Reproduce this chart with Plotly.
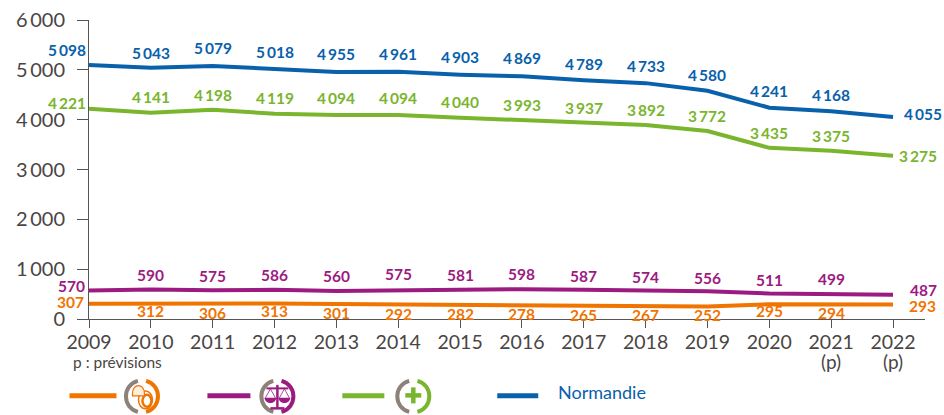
import plotly.graph_objects as go

YEARS = list(range(2009, 2023))
NORMANDIE = [5098, 5043, 5079, 5018, 4955, 4961, 4903, 4869, 4789, 4733, 4580, 4241, 4168, 4055]
GREEN_VALUES = [4221, 4141, 4198, 4119, 4094, 4094, 4040, 3993, 3937, 3892, 3772, 3435, 3375, 3275]
PURPLE_VALUES = [570, 590, 575, 586, 560, 575, 581, 598, 587, 574, 556, 511, 499, 487]
ORANGE_VALUES = [307, 312, 306, 313, 301, 292, 282, 278, 265, 267, 252, 295, 294, 293]
X_TICK_LABELS = [str(y) for y in YEARS]
FORECAST_YEARS = [2021, 2022]
Y_TICK_VALUES = [0, 1000, 2000, 3000, 4000, 5000, 6000]

BLUE, GREEN, PURPLE, ORANGE = "#0a61ab", "#7ab52e", "#9c1b81", "#f07400"
GREY = "#8c8279"
TEXT = "#4a4543"
FONT = "Lato"
SP = "\u2009"

# label offsets from the point, in pixels (positive = up / right)
BLUE_DY = [15, 15, 18, 17, 18, 18, 18, 18, 16, 17, 16, 17, 16, 3]
GREEN_DY = [6, 16, 15, 16, 17, 17, 16, 15, 15, 15, 15, 15, 15, 0]
PURPLE_DY = [5, 15, 14, 15, 15, 16, 15, 15, 14, 13, 13, 14, 15, 5]
ORANGE_DY = [2, -8, -9, -8, -9, -10, -9, -9, -9, -9, -9, -7, -9, -2]
FIRST_DX = {"b": -22, "g": -22, "p": -18, "o": -19}
LAST_DX = {"b": 30, "g": 25, "p": 30, "o": 29}

L, R, T, B = 88.5, 925.0, 19.5, 319.0
XMAX = 2009 + (R - L) / ((893 - 88.5) / 13)


def px(x):
    return (x - L) / (R - L)


def py(y):
    return (B - y) / (B - T)


def fmt(v):
    return f"{v:,}".replace(",", SP)


def path_from(cmds):
    """cmds: list of (letter, x, y, ...) in picture pixels."""
    out = []
    for c in cmds:
        pts = c[1:]
        coords = " ".join(f"{px(pts[i])} {py(pts[i + 1])}" for i in range(0, len(pts), 2))
        out.append(f"{c[0]} {coords}".strip())
    return " ".join(out)


def pshape(cmds, line=None, width=0, fill=None):
    d = dict(type="path", xref="paper", yref="paper", path=path_from(cmds))
    d["line"] = dict(color=line, width=width) if line else dict(width=0)
    if fill:
        d["fillcolor"] = fill
    return d


def seg(x0, y0, x1, y1, col, width):
    return dict(type="line", xref="paper", yref="paper", x0=px(x0), x1=px(x1),
                y0=py(y0), y1=py(y1), line=dict(color=col, width=width))


def ellipse(x0, y0, x1, y1, col, width):
    return dict(type="circle", xref="paper", yref="paper", x0=px(x0), x1=px(x1),
                y0=py(y0), y1=py(y1), line=dict(color=col, width=width))


fig = go.Figure()
annotations = []
for vals, col, dy, key in [
    (NORMANDIE, BLUE, BLUE_DY, "b"),
    (GREEN_VALUES, GREEN, GREEN_DY, "g"),
    (PURPLE_VALUES, PURPLE, PURPLE_DY, "p"),
    (ORANGE_VALUES, ORANGE, ORANGE_DY, "o"),
]:
    fig.add_trace(go.Scatter(x=YEARS, y=vals, mode="lines", line=dict(color=col, width=4),
                             cliponaxis=False, showlegend=False, hoverinfo="skip"))
    for i, (x, v) in enumerate(zip(YEARS, vals)):
        dx = FIRST_DX[key] if i == 0 else LAST_DX[key] if i == len(vals) - 1 else 0
        annotations.append(dict(x=x, y=v, xref="x", yref="y", text=fmt(v), showarrow=False,
                                xanchor="center", yanchor="middle", xshift=dx, yshift=dy[i],
                                font=dict(family=FONT, size=15.5, color=col, weight=700)))

for year in FORECAST_YEARS:
    annotations.append(dict(x=year, y=py(362), xref="x", yref="paper", text="(p)", showarrow=False,
                            xanchor="center", yanchor="middle",
                            font=dict(family=FONT, size=19, color=TEXT)))

annotations.append(dict(x=px(70), y=py(362), xref="paper", yref="paper", text="p : prévisions",
                        showarrow=False, xanchor="left", yanchor="middle",
                        font=dict(family=FONT, size=15.5, color=TEXT)))
annotations.append(dict(x=px(556), y=py(392), xref="paper", yref="paper", text="Normandie",
                        showarrow=False, xanchor="left", yanchor="middle",
                        font=dict(family=FONT, size=18, color=BLUE)))

shapes = []
LEGEND_Y = 396
for x0, x1, col in [(69, 116, ORANGE), (207, 250, PURPLE), (342, 384, GREEN), (497, 538, BLUE)]:
    shapes.append(seg(x0, LEGEND_Y, x1, LEGEND_Y, col, 5))


def arc(cx, cy, s, col):
    return pshape([("M", cx + s * 4.1, cy - 15.5),
                   ("C", cx + s * 20, cy - 11.2, cx + s * 20, cy + 11.2, cx + s * 4.1, cy + 15.5)],
                  line=col, width=4)


for cx, col in [(141.5, ORANGE), (277, PURPLE), (413, GREEN)]:
    shapes += [arc(cx, 396.5, -1, GREY), arc(cx, 396.5, 1, col)]

# orange icon: helmet over tyre
shapes.append(ellipse(138, 391, 152, 409, ORANGE, 1.5))
shapes.append(ellipse(142, 395, 151, 407, ORANGE, 2.5))
shapes.append(pshape([("M", 132, 394), ("C", 132, 383, 144, 383, 144, 394), ("L", 144, 396), ("L", 132, 396), ("Z",)],
                     line=ORANGE, width=1.2, fill="#fdeedd"))

# purple icon: scales
shapes.append(seg(266, 388.5, 288, 388.5, PURPLE, 2))
shapes.append(seg(277, 385, 277, 408, PURPLE, 2.5))
shapes.append(seg(270, 408.5, 284, 408.5, PURPLE, 2.5))
for c in (270, 284):
    shapes.append(seg(c, 389, c - 5, 398, PURPLE, 0.8))
    shapes.append(seg(c, 389, c + 5, 398, PURPLE, 0.8))
    shapes.append(pshape([("M", c - 6, 398), ("C", c - 5, 405, c + 5, 405, c + 6, 398), ("Z",)], fill=PURPLE))

# green icon: plus sign
shapes.append(seg(405, 395.5, 421, 395.5, GREEN, 4.5))
shapes.append(seg(413, 387.5, 413, 403.5, GREEN, 4.5))

fig.update_layout(
    width=944, height=415, autosize=False,
    margin=dict(l=L, r=944 - R, t=T, b=415 - B),
    paper_bgcolor="white", plot_bgcolor="white",
    showlegend=False, annotations=annotations, shapes=shapes,
    font=dict(family=FONT, color=TEXT),
    xaxis=dict(range=[2009, XMAX], tickmode="array", tickvals=YEARS, ticktext=X_TICK_LABELS,
               automargin=False,
               ticks="outside", ticklen=8, tickcolor="#555", tickwidth=1, showline=True,
               linecolor="#555", linewidth=1, showgrid=False, zeroline=False,
               tickfont=dict(family=FONT, size=19.5, color=TEXT), ticklabelstandoff=-2),
    yaxis=dict(range=[0, 6000], tickmode="array", tickvals=Y_TICK_VALUES,
               automargin=False,
               ticktext=[fmt(v) for v in Y_TICK_VALUES], ticks="outside", ticklen=11,
               tickcolor="#555", tickwidth=1, showline=True, linecolor="#555", linewidth=1,
               showgrid=False, zeroline=False, ticklabelstandoff=8,
               tickfont=dict(family=FONT, size=20, color=TEXT)),
)
fig.write_html("out.html", config={"displayModeBar": False},
               post_script="document.body.style.margin='0';document.documentElement.style.overflow='hidden';")
